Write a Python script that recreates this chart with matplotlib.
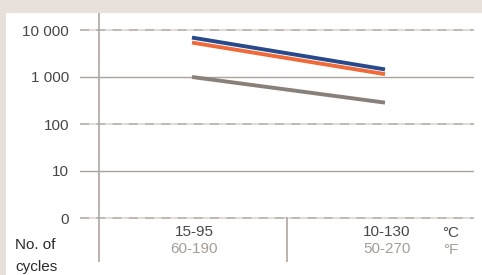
import matplotlib
matplotlib.use("Agg")
import matplotlib.pyplot as plt
from matplotlib.patches import Rectangle

# ---- data ----
categories_c = ["15-95", "10-130"]
categories_f = ["60-190", "50-270"]
blue_values = [6900, 1450]
orange_values = [5400, 1150]
gray_values = [1000, 285]
y_ticks = [1, 10, 100, 1000, 10000]
y_tick_labels = ["0", "10", "100", "1 000", "10 000"]

W, H = 482, 275
fig = plt.figure(figsize=(W / 100, H / 100), dpi=100)
fig.patch.set_facecolor("#e7e0db")
plt.rcParams["font.family"] = ["Liberation Sans", "DejaVu Sans"]

# white panel
fig.patches.append(Rectangle((6 / W, 0), 1 - 6 / W, 1 - 13 / H,
                             transform=fig.transFigure, facecolor="white",
                             edgecolor="none", zorder=-10))

def px(x0, y0, x1, y1):
    return [x0 / W, 1 - y1 / H, (x1 - x0) / W, (y1 - y0) / H]

ax = fig.add_axes(px(80, 13, 474, 262))
ax.set_facecolor("none")
ax.set_yscale("log")
dec = 47.0
ax.set_ylim(10 ** (-(262 - 218) / dec), 10 ** (4 + (30 - 13) / dec))
ax.set_xlim((80 - 192) / 193, 1 + (474 - 385) / 193)

for s in ax.spines.values():
    s.set_visible(False)

text_col = "#474747"
light_col = "#a69d96"

ax.set_yticks(y_ticks)
ax.set_yticklabels(y_tick_labels)
ax.yaxis.set_minor_locator(matplotlib.ticker.NullLocator())
ax.tick_params(axis="y", length=0, pad=8, labelsize=11, labelcolor=text_col)
ax.set_xticks([])

for i, v in enumerate(y_ticks):
    if i % 2 == 0:
        ax.axhline(v, color="#dfd9d5", lw=1.3, zorder=1)
        ax.axhline(v, color="#beb6b0", lw=1.3, dashes=(5, 4), zorder=1)
    else:
        ax.axhline(v, color="#ada39c", lw=1.0, zorder=1)

# vertical axis line and separator
ax.axvline(-0.48, color="#b0a69f", lw=1.2, zorder=1)
sep_top = (262 - 218) / (262 - 13)
ax.axvline(0.49, ymin=0, ymax=sep_top, color="#b0a69f", lw=1.2, zorder=1)

x = list(range(len(categories_c)))
ax.plot(x, blue_values, color="#284a8c", lw=2.8, solid_capstyle="butt", zorder=3)
ax.plot(x, orange_values, color="#ee6a3a", lw=2.8, solid_capstyle="butt", zorder=3)
ax.plot(x, gray_values, color="#8a807a", lw=2.8, solid_capstyle="butt", zorder=3)

# category labels
tr = ax.get_xaxis_transform()
yc = 1 - (232 - 13) / (262 - 13)
yf = 1 - (249 - 13) / (262 - 13)
for i, (c, f) in enumerate(zip(categories_c, categories_f)):
    ax.text(i + 0.01, yc, c, transform=tr, ha="center", va="center", fontsize=11, color=text_col)
    ax.text(i + 0.01, yf, f, transform=tr, ha="center", va="center", fontsize=11, color=light_col)

fig.text(451 / W, 1 - 233 / H, "°C", ha="center", va="center", fontsize=11, color=text_col)
fig.text(451 / W, 1 - 250 / H, "°F", ha="center", va="center", fontsize=11, color=light_col)

fig.text(15 / W, 1 - 245 / H, "No. of", ha="left", va="center", fontsize=11, color="#2a2a2a")
fig.text(15 / W, 1 - 267 / H, "cycles", ha="left", va="center", fontsize=11, color="#2a2a2a")

fig.savefig("out.png", dpi=100, facecolor=fig.get_facecolor())
